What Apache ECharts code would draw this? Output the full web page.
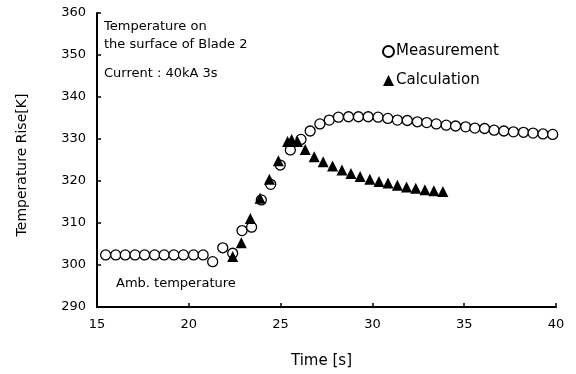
<!DOCTYPE html>
<html><head><meta charset="utf-8">
<script src="https://cdn.jsdelivr.net/npm/echarts@6/dist/echarts.min.js"></script>
<style>html,body{margin:0;padding:0;background:#fff}#c{width:576px;height:374px}</style>
</head><body><div id="c"></div>
<script>
var measT = [15.47,16.02,16.54,17.07,17.59,18.14,18.66,19.19,19.71,20.26,20.78,21.30,21.85,22.39,22.90,23.42,23.95,24.46,24.98,25.53,26.11,26.61,27.14,27.65,28.15,28.70,29.24,29.77,30.31,30.84,31.36,31.90,32.45,32.96,33.48,34.02,34.53,35.08,35.58,36.11,36.63,37.16,37.68,38.23,38.75,39.29,39.82];
var measV = [302.4,302.4,302.4,302.4,302.4,302.4,302.4,302.4,302.4,302.4,302.4,300.8,304.1,302.8,308.2,309.0,315.5,319.2,323.8,327.4,329.9,331.9,333.6,334.5,335.2,335.3,335.3,335.3,335.2,334.9,334.5,334.4,334.1,333.9,333.6,333.3,333.1,332.9,332.6,332.5,332.1,331.9,331.7,331.6,331.4,331.2,331.1];
var calcT = [22.39,22.86,23.35,23.88,24.39,24.88,25.38,25.60,25.92,26.34,26.83,27.32,27.83,28.34,28.83,29.33,29.86,30.36,30.85,31.36,31.86,32.36,32.86,33.35,33.84];
var calcV = [302.0,305.3,311.1,315.9,320.4,324.8,329.4,329.9,329.4,327.5,325.8,324.6,323.6,322.6,321.8,321.1,320.4,319.9,319.5,319.0,318.6,318.3,317.9,317.7,317.5];
var xTicks = [15,20,25,30,35,40];
var yTicks = [290,300,310,320,330,340,350,360];

function pairs(a,b){return a.map(function(v,i){return [v,b[i]];});}
var FONT = 'DejaVu Sans';
var chart = echarts.init(document.getElementById('c'));
chart.setOption({
  animation:false,
  backgroundColor:'#fff',
  grid:{left:97,right:20,top:13,bottom:67},
  xAxis:{type:'value',min:xTicks[0],max:xTicks[xTicks.length-1],interval:5,
    name:'Time [s]',nameLocation:'middle',nameGap:47,
    nameTextStyle:{fontFamily:FONT,fontSize:15,color:'#000',padding:[0,10,0,0]},
    axisLine:{lineStyle:{color:'#000',width:2}},
    axisTick:{inside:true,length:4,lineStyle:{color:'#000',width:1.5}},
    axisLabel:{margin:11,fontFamily:FONT,fontSize:13,color:'#000'},
    splitLine:{show:false}},
  yAxis:{type:'value',min:yTicks[0],max:yTicks[yTicks.length-1],interval:10,
    name:'Temperature Rise[K]',nameLocation:'middle',nameGap:68,
    nameTextStyle:{fontFamily:FONT,fontSize:14,color:'#000',padding:[0,10,0,0]},
    axisLine:{lineStyle:{color:'#000',width:2}},
    axisTick:{inside:true,length:4,lineStyle:{color:'#000',width:1.5}},
    axisLabel:{margin:11,fontFamily:FONT,fontSize:13,color:'#000'},
    splitLine:{show:false}},
  legend:{orient:'vertical',left:377,top:39,itemWidth:11,itemHeight:11,itemGap:14,
    textStyle:{fontFamily:FONT,fontSize:15,color:'#000',padding:[0,0,0,-3]},
    data:[{name:'Measurement',icon:'circle'},{name:'Calculation',icon:'triangle'}]},
  series:[
    {name:'Measurement',type:'scatter',symbol:'circle',symbolSize:10,
     itemStyle:{color:'#fff',borderColor:'#000',borderWidth:1.3,opacity:1},
     data:pairs(measT,measV),z:2},
    {name:'Calculation',type:'scatter',symbol:'triangle',symbolSize:11,
     itemStyle:{color:'#000',opacity:1},data:pairs(calcT,calcV),z:3}
  ],
  graphic:[
    {type:'text',left:104,top:20,style:{text:'Temperature on',font:'13px "DejaVu Sans"',fill:'#000'}},
    {type:'text',left:104,top:38,style:{text:'the surface of Blade 2',font:'13px "DejaVu Sans"',fill:'#000'}},
    {type:'text',left:104,top:67,style:{text:'Current : 40kA 3s',font:'13px "DejaVu Sans"',fill:'#000'}},
    {type:'text',left:116,top:277,style:{text:'Amb. temperature',font:'13px "DejaVu Sans"',fill:'#000'}}
  ]
});
</script></body></html>
